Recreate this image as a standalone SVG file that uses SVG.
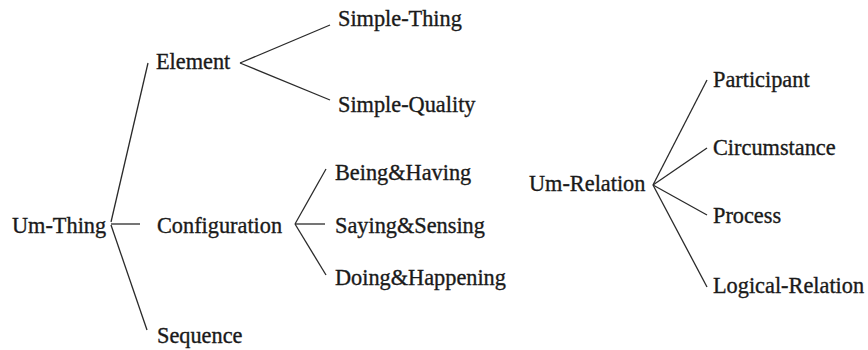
<svg xmlns="http://www.w3.org/2000/svg" width="868" height="350" viewBox="0 0 868 350">
<style>
text { font-family: "Liberation Serif", "Times New Roman", serif; font-size: 22.3px; fill: #1a1a1a; stroke: #1a1a1a; stroke-width: 0.35; }
.c line { stroke: #2a2a2a; stroke-width: 1.3; fill: none; }
</style>
<rect width="868" height="350" fill="#ffffff"/>
<g class="c" id="connectors">
<line x1="111" y1="222" x2="148" y2="63"/>
<line x1="111" y1="224" x2="140" y2="224"/>
<line x1="111" y1="225" x2="147" y2="330"/>
<line x1="240" y1="63" x2="330" y2="25"/>
<line x1="240" y1="63" x2="330" y2="100"/>
<line x1="295" y1="224" x2="326" y2="169"/>
<line x1="295" y1="224" x2="325" y2="224"/>
<line x1="295" y1="224" x2="326" y2="275"/>
<line x1="653" y1="185" x2="707" y2="80"/>
<line x1="653" y1="185" x2="707" y2="148"/>
<line x1="653" y1="185" x2="707" y2="215"/>
<line x1="653" y1="185" x2="707" y2="287"/>
</g>
<g id="um-thing"><text x="12" y="233">Um-Thing</text></g>
<g id="element"><text x="156" y="69">Element</text></g>
<g id="configuration"><text x="157" y="233">Configuration</text></g>
<g id="sequence"><text x="157" y="343">Sequence</text></g>
<g id="simple-thing"><text x="338" y="26">Simple-Thing</text></g>
<g id="simple-quality"><text x="338" y="112">Simple-Quality</text></g>
<g id="being-having"><text x="335" y="180">Being&amp;Having</text></g>
<g id="saying-sensing"><text x="335" y="233">Saying&amp;Sensing</text></g>
<g id="doing-happening"><text x="335" y="285">Doing&amp;Happening</text></g>
<g id="um-relation"><text x="529" y="191">Um-Relation</text></g>
<g id="participant"><text x="713" y="87">Participant</text></g>
<g id="circumstance"><text x="713" y="155">Circumstance</text></g>
<g id="process"><text x="713" y="223">Process</text></g>
<g id="logical-relation"><text x="713" y="293">Logical-Relation</text></g>
</svg>
